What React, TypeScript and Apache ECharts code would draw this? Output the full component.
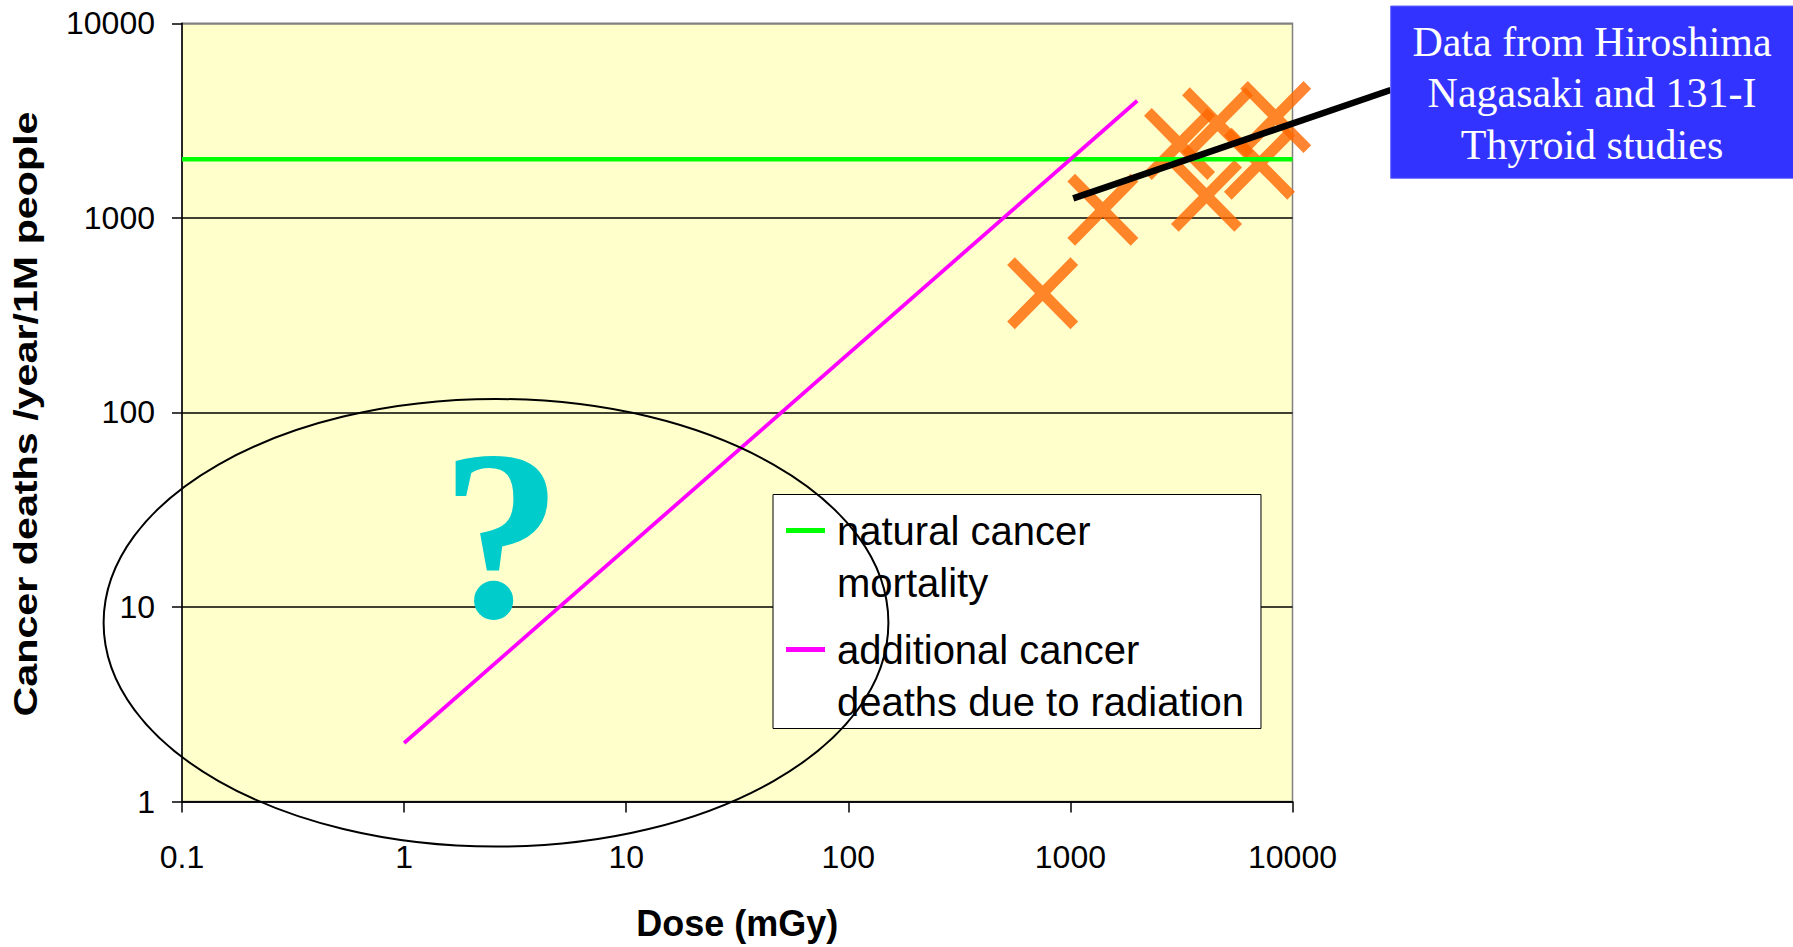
import React, { useEffect, useRef } from 'react';
import * as echarts from 'echarts';

// Axis tick labels (decades on both log axes)
const doseTicks = ['0.1', '1', '10', '100', '1000', '10000'];
const deathTicks = ['1', '10', '100', '1000', '10000'];

// Series data: [dose mGy, deaths /year/1M people]
const naturalMortality = [
  [0.1, 2000],
  [10000, 2000],
];
const radiationDeaths = [
  [1, 2],
  [2000, 4000],
];
const studyPoints = [
  [750, 410],
  [1400, 1100],
  [3100, 2400],
  [4100, 1300],
  [4600, 3060],
  [8400, 3300],
  [7100, 1900],
];
// Where the leader to the caption box starts, inside the study cluster
const calloutAnchor = [1030, 1260];

const seriesNames = ['natural cancer\nmortality', 'additional cancer\ndeaths due to radiation'];
const calloutText = ['Data from Hiroshima', 'Nagasaki and 131-I', 'Thyroid studies'];
const yAxisTitle = 'Cancer deaths /year/1M people';
const xAxisTitle = 'Dose (mGy)';

const SANS = '"Liberation Sans", Arial, Helvetica, sans-serif';
const SERIF = '"Liberation Serif", "Times New Roman", Times, serif';

// Cross marker drawn as one polygon in a 100x100 box
const CROSS =
  'path://M10.8,0L50,39.2L89.2,0L100,10.8L60.8,50L100,89.2L89.2,100L50,60.8L10.8,100L0,89.2L39.2,50L0,10.8Z';
// Legend swatch: a short bar aligned with the first text line of a two-line entry
const SWATCH = 'path://M0,0M46,104M0,23.5L39,23.5L39,28.5L0,28.5Z';

const GRID = { left: 182, top: 23.3, width: 1110.5, height: 778.3 };
// Caption box (top right) and the point on its left edge where the leader ends
const BOX = { x: 1390.7, y: 6, width: 420, height: 172.3 };
const BOX_LEADER_END = [BOX.x, 90];

export default function App() {
  const ref = useRef<HTMLDivElement>(null);

  useEffect(() => {
    if (!ref.current) return;
    const chart = echarts.init(ref.current, null, { renderer: 'svg' });

    const axisText = { color: '#000', fontSize: 32, fontFamily: SANS };

    chart.setOption({
      animation: false,
      backgroundColor: '#fff',
      grid: {
        ...GRID,
        show: true,
        backgroundColor: '#FFFFCC',
        borderColor: '#808080',
        borderWidth: 1.5,
      },
      xAxis: {
        type: 'log',
        logBase: 10,
        min: 0.1,
        max: 10000,
        name: xAxisTitle,
        nameLocation: 'middle',
        nameGap: 104,
        nameTextStyle: { color: '#000', fontSize: 36, fontWeight: 'bold', fontFamily: SANS },
        axisLine: { show: true, lineStyle: { color: '#000', width: 1.5 } },
        axisTick: { show: true, length: 11, lineStyle: { color: '#000', width: 1.5 } },
        minorTick: { show: false },
        axisLabel: {
          ...axisText,
          margin: 39,
          formatter: (v: number) => doseTicks[Math.round(Math.log10(v)) + 1] ?? String(v),
        },
        splitLine: { show: false },
      },
      yAxis: {
        type: 'log',
        logBase: 10,
        min: 1,
        max: 10000,
        axisLine: { show: true, lineStyle: { color: '#000', width: 1.5 } },
        axisTick: { show: true, length: 10, lineStyle: { color: '#000', width: 1.5 } },
        minorTick: { show: false },
        axisLabel: {
          ...axisText,
          margin: 27,
          formatter: (v: number) => deathTicks[Math.round(Math.log10(v))] ?? String(v),
        },
        splitLine: {
          show: true,
          lineStyle: { color: ['#000', '#000', '#000', '#000', '#808080'], width: 1.5 },
        },
      },
      legend: {
        data: seriesNames,
        orient: 'vertical',
        left: 773,
        top: 494.5,
        backgroundColor: '#fff',
        borderColor: '#000',
        borderWidth: 1,
        borderRadius: 0,
        padding: [10, 17, 1, 13],
        itemWidth: 46,
        itemHeight: 104,
        itemGap: 15,
        icon: SWATCH,
        selectedMode: false,
        itemStyle: { borderWidth: 0 },
        textStyle: { color: '#000', fontSize: 40, lineHeight: 52, fontFamily: SANS },
        z: 10,
      },
      series: [
        {
          type: 'scatter',
          name: 'studies',
          data: studyPoints,
          symbol: CROSS,
          symbolSize: [71, 72],
          itemStyle: { color: '#FF6600' },
          z: 2,
          silent: true,
        },
        {
          type: 'line',
          name: seriesNames[0],
          data: naturalMortality,
          showSymbol: false,
          symbol: 'none',
          lineStyle: { color: '#00FF00', width: 4.5 },
          itemStyle: { color: '#00FF00' },
          z: 3,
          silent: true,
        },
        {
          type: 'line',
          name: seriesNames[1],
          data: radiationDeaths,
          showSymbol: false,
          symbol: 'none',
          lineStyle: { color: '#FF00FF', width: 3.8 },
          itemStyle: { color: '#FF00FF' },
          z: 3,
          silent: true,
        },
      ],
      graphic: [
        {
          id: 'yTitle',
          type: 'text',
          x: 26,
          y: 414,
          rotation: Math.PI / 2,
          scaleX: 1.25,
          style: {
            text: yAxisTitle,
            fill: '#000',
            font: `bold 33px ${SANS}`,
            align: 'center',
            verticalAlign: 'middle',
          },
          z: 50,
        },
        {
          id: 'question',
          type: 'text',
          x: 501.5,
          y: 535,
          style: {
            text: '?',
            fill: '#00CCCC',
            font: `bold 242px ${SERIF}`,
            align: 'center',
            verticalAlign: 'middle',
          },
          z: 50,
        },
        {
          id: 'ellipse',
          type: 'ellipse',
          shape: { cx: 496, cy: 622.8, rx: 392.4, ry: 223.8 },
          style: { fill: 'none', stroke: '#000', lineWidth: 2 },
          z: 100,
        },
        {
          id: 'box',
          type: 'rect',
          shape: { ...BOX },
          style: { fill: '#3333FF', stroke: '#6666FF', lineWidth: 1 },
          z: 100,
        },
        {
          id: 'boxText',
          type: 'text',
          x: 1592,
          y: 93.4,
          style: {
            text: calloutText.join('\n'),
            fill: '#fff',
            font: `42px ${SERIF}`,
            lineHeight: 51.7,
            align: 'center',
            verticalAlign: 'middle',
          },
          z: 101,
        },
      ],
    });

    // Leader line from the study cluster (data coordinates) to the caption box
    const start = chart.convertToPixel({ gridIndex: 0 }, calloutAnchor) as number[];
    chart.setOption({
      graphic: [
        {
          id: 'leader',
          type: 'line',
          shape: { x1: start[0], y1: start[1], x2: BOX_LEADER_END[0], y2: BOX_LEADER_END[1] },
          style: { stroke: '#000', lineWidth: 6.5 },
          z: 60,
        },
      ],
    });

    return () => chart.dispose();
  }, []);

  return (
    <div
      ref={ref}
      style={{ position: 'absolute', left: 0, top: 0, width: 1793, height: 947 }}
    />
  );
}
